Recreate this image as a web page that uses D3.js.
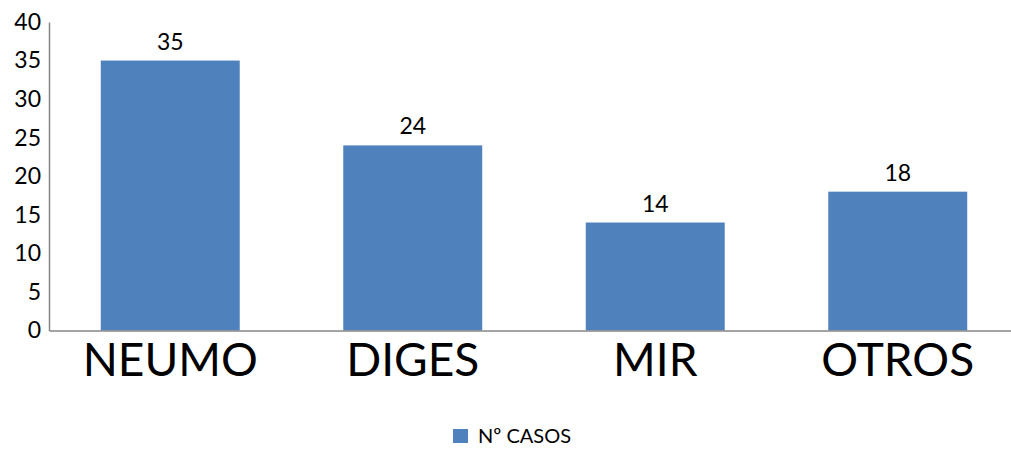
<!DOCTYPE html>
<html>
<head>
<meta charset="utf-8">
<script src="https://cdn.jsdelivr.net/npm/d3@7"></script>
<style>
  html, body { margin: 0; padding: 0; background: #fff; }
  svg { display: block; font-family: Lato, "Open Sans", sans-serif; }
</style>
</head>
<body>
<svg id="chart" width="1011" height="450"></svg>
<script>
// Cases by category
const categories = ["NEUMO", "DIGES", "MIR", "OTROS"];
const casos = [35, 24, 14, 18];
const yTicks = [0, 5, 10, 15, 20, 25, 30, 35, 40];
const seriesName = "Nº CASOS";

const svg = d3.select("#chart");
const margin = { left: 49, right: 1019, top: 22, bottom: 330.5 };

const x = d3.scaleBand()
  .domain(categories)
  .range([margin.left, margin.right])
  .paddingInner(0.427)
  .paddingOuter(0.2135);

const y = d3.scaleLinear()
  .domain([0, 40])
  .range([margin.bottom, margin.top]);

// Bars
svg.append("g").selectAll("rect")
  .data(categories.map((c, i) => ({ c, v: casos[i] })))
  .join("rect")
  .attr("x", d => x(d.c))
  .attr("y", d => y(d.v))
  .attr("width", x.bandwidth())
  .attr("height", d => y(0) - y(d.v))
  .attr("fill", "#4F81BD");

// Value labels
svg.append("g").selectAll("text")
  .data(categories.map((c, i) => ({ c, v: casos[i] })))
  .join("text")
  .attr("x", d => x(d.c) + x.bandwidth() / 2)
  .attr("y", d => y(d.v) - 11)
  .attr("text-anchor", "middle")
  .attr("font-size", 23)
  .attr("fill", "#000")
  .text(d => d.v);

// Y axis
const yAxis = svg.append("g")
  .attr("transform", `translate(${margin.left},0)`)
  .call(d3.axisLeft(y).tickValues(yTicks).tickSize(0).tickPadding(8));
yAxis.select(".domain").attr("stroke", "#868686").attr("stroke-width", 1.5);
yAxis.selectAll("text").attr("font-size", 23).attr("fill", "#000").attr("font-family", "Lato, sans-serif");

// X axis
const xAxis = svg.append("g")
  .attr("transform", `translate(0,${margin.bottom})`)
  .call(d3.axisBottom(x).tickSize(0).tickPadding(11));
xAxis.select(".domain").attr("stroke", "#868686").attr("stroke-width", 1.5);
xAxis.selectAll("text").attr("font-size", 46).attr("fill", "#000")
  .attr("font-family", "Lato, sans-serif").attr("dy", "0.75em");

// Legend
const legend = svg.append("g").attr("transform", "translate(453,429)");
legend.append("rect").attr("width", 15).attr("height", 14).attr("fill", "#4F81BD");
legend.append("text").attr("x", 25).attr("y", 14)
  .attr("font-size", 20).attr("fill", "#000").text(seriesName);
</script>
</body>
</html>
